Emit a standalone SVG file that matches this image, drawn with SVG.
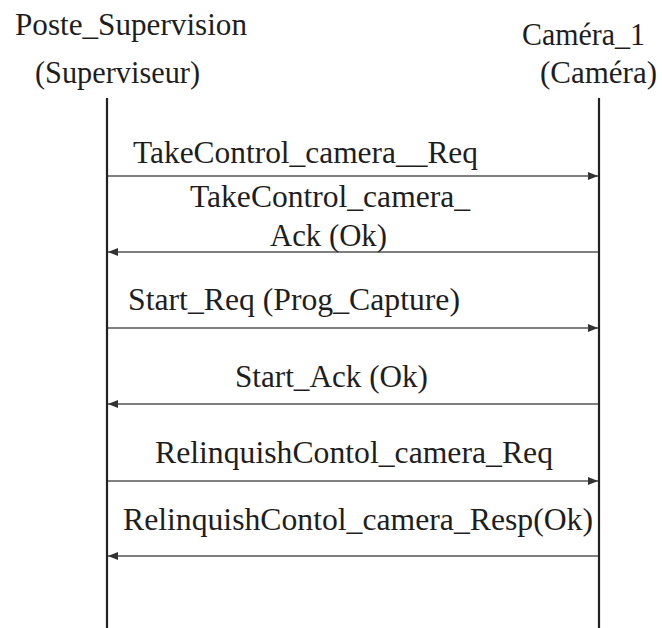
<svg xmlns="http://www.w3.org/2000/svg" width="662" height="628" viewBox="0 0 662 628">
<style>
text{font-family:"Liberation Serif","DejaVu Serif",serif;font-size:31px;fill:#1e1e1e}
.life{stroke:#222;stroke-width:2.2;fill:none}
.msg{stroke:#555;stroke-width:1.6;fill:none}
</style>
<defs>
<marker id="ah" viewBox="0 0 10 8" refX="10" refY="4" markerWidth="10" markerHeight="8" markerUnits="userSpaceOnUse" orient="auto">
<path d="M0,0 L10,4 L0,8 z" fill="#333"/>
</marker>
</defs>
<rect width="662" height="628" fill="#fff"/>
<g id="poste_supervision">
<text x="15" y="35" textLength="232" lengthAdjust="spacingAndGlyphs">Poste_Supervision</text>
<text x="35" y="83" textLength="165" lengthAdjust="spacingAndGlyphs">(Superviseur)</text>
<line class="life" x1="107" y1="98" x2="107" y2="628"/>
</g>
<g id="camera_1">
<text x="522" y="45" textLength="123" lengthAdjust="spacingAndGlyphs">Caméra_1</text>
<text x="540" y="83" textLength="117" lengthAdjust="spacingAndGlyphs">(Caméra)</text>
<line class="life" x1="599" y1="98" x2="599" y2="628"/>
</g>
<g id="connectors">
<line class="msg" x1="108" y1="176" x2="598" y2="176" marker-end="url(#ah)"/>
<line class="msg" x1="598" y1="252" x2="108" y2="252" marker-end="url(#ah)"/>
<line class="msg" x1="108" y1="328" x2="598" y2="328" marker-end="url(#ah)"/>
<line class="msg" x1="598" y1="404" x2="108" y2="404" marker-end="url(#ah)"/>
<line class="msg" x1="108" y1="481" x2="598" y2="481" marker-end="url(#ah)"/>
<line class="msg" x1="598" y1="556" x2="108" y2="556" marker-end="url(#ah)"/>
</g>
<g id="labels">
<text x="133" y="163" textLength="345" lengthAdjust="spacingAndGlyphs">TakeControl_camera__Req</text>
<text x="190" y="207" textLength="280" lengthAdjust="spacingAndGlyphs">TakeControl_camera_</text>
<text x="270" y="246" textLength="117" lengthAdjust="spacingAndGlyphs">Ack (Ok)</text>
<text x="128" y="310" textLength="332" lengthAdjust="spacingAndGlyphs">Start_Req (Prog_Capture)</text>
<text x="235" y="387" textLength="193" lengthAdjust="spacingAndGlyphs">Start_Ack (Ok)</text>
<text x="155" y="463" textLength="398" lengthAdjust="spacingAndGlyphs">RelinquishContol_camera_Req</text>
<text x="123" y="530" textLength="470" lengthAdjust="spacingAndGlyphs">RelinquishContol_camera_Resp(Ok)</text>
</g>
</svg>
